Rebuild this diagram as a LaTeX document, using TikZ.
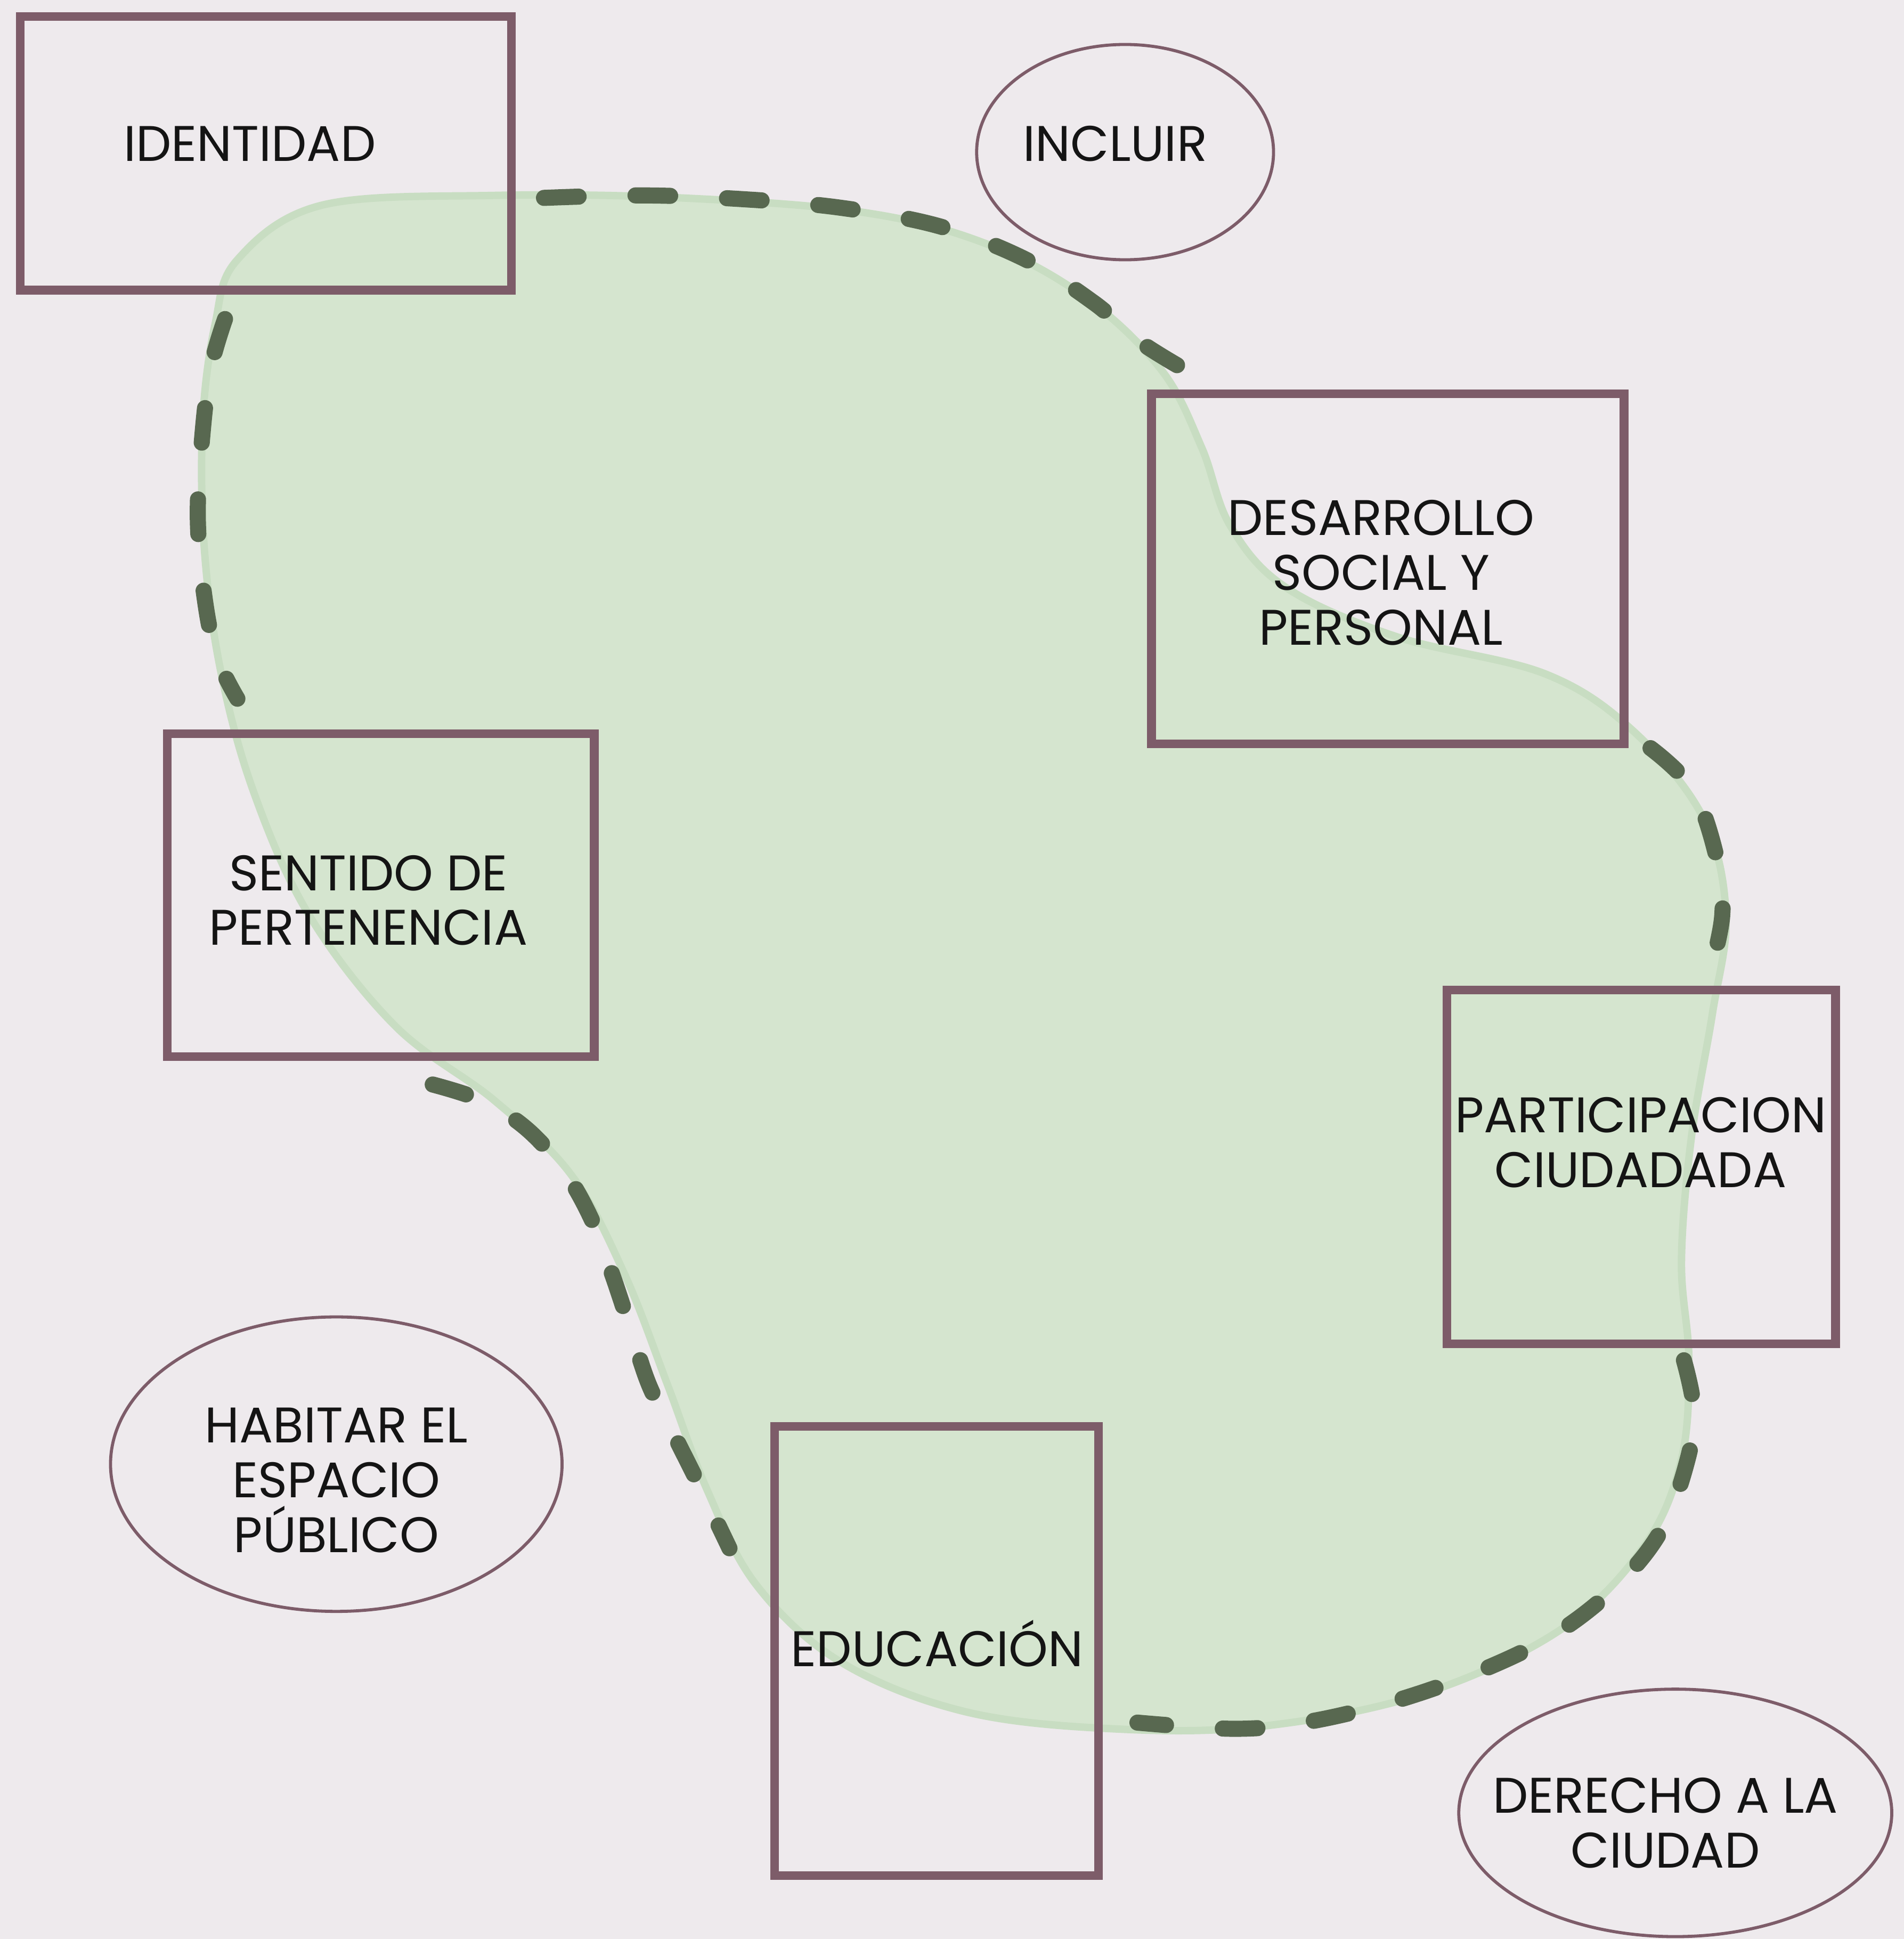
\documentclass[tikz,border=0pt]{standalone}
\usepackage{fontspec}
\setmainfont{Poppins}
\usetikzlibrary{shapes.geometric}
\definecolor{bgc}{RGB}{238,234,237}
\definecolor{blobc}{RGB}{213,229,207}
\definecolor{blobedge}{RGB}{200,221,194}
\definecolor{boxc}{RGB}{125,92,105}
\definecolor{dashc}{RGB}{88,104,80}
\definecolor{txtc}{RGB}{20,20,20}
\tikzset{
  cbox/.style={draw=boxc, line width=0.07cm, inner sep=0pt, rectangle},
  cell/.style={draw=boxc, line width=0.025cm, inner sep=0pt, ellipse},
  lbl/.style={text=txtc, font=\fontsize{11.5}{12.6}\selectfont, align=center, inner sep=0pt},
  dline/.style={draw=dashc, line width=0.13cm, line cap=round, dash pattern=on 0.28cm off 0.46cm},
}
\begin{document}
\begin{tikzpicture}[x=0.01cm,y=-0.01cm]
\useasboundingbox (0,0) rectangle (1540,1568);
\fill[bgc] (0,0) rectangle (1540,1568);
% green blob
\fill[blobc, draw=blobedge, line width=0.06cm] plot[smooth cycle, tension=0.6] coordinates {
 (192,210) (260,166) (400,158) (550,160) (700,172) (800,198) (880,242) (940,300)
 (972,362) (995,425) (1040,475) (1130,515) (1250,545) (1322,592) (1378,662) (1396,740)
 (1385,820) (1368,920) (1360,1020) (1366,1100) (1360,1180) (1330,1250) (1262,1318)
 (1150,1370) (1020,1396) (900,1398) (780,1384) (680,1344) (612,1282) (572,1205)
 (540,1120) (505,1030) (462,950) (400,890) (320,830) (250,740) (205,640) (178,540)
 (165,440) (164,340) (174,262)};
% dashed contour segments
\draw[dline] plot[smooth, tension=0.6] coordinates {(440,160) (520,158) (600,161) (680,168) (760,183) (830,210) (885,245) (920,275) (955,297)};
\draw[dline] plot[smooth, tension=0.6] coordinates {(1335,605) (1370,640) (1390,700) (1393,740) (1385,780)};
\draw[dline] plot[smooth, tension=0.6] coordinates {(1362,1100) (1370,1140) (1365,1180) (1345,1235) (1310,1280) (1260,1320) (1200,1350) (1130,1375) (1060,1392) (1000,1398) (920,1393)};
\draw[dline] plot[smooth, tension=0.6] coordinates {(182,258) (170,300) (163,360) (160,420) (165,480) (175,530) (192,565)};
\draw[dline] plot[smooth, tension=0.6] coordinates {(350,877) (390,890) (425,912) (455,945) (478,985) (495,1030) (510,1075) (525,1120) (545,1160) (565,1200) (590,1252)};
% boxes
\node[cbox, minimum width=3.97cm, minimum height=2.21cm] (bident) at (215,124) {};
\node[cbox, minimum width=3.82cm, minimum height=2.83cm] (bdes) at (1122.5,460) {};
\node[cbox, minimum width=3.45cm, minimum height=2.61cm] (bsent) at (308,724) {};
\node[cbox, minimum width=3.14cm, minimum height=2.86cm] (bpart) at (1327.5,943.5) {};
\node[cbox, minimum width=2.62cm, minimum height=3.63cm] (bedu) at (757.5,1335) {};
% ellipses
\node[cell, minimum width=2.40cm, minimum height=1.74cm] (eincl) at (910,123) {};
\node[cell, minimum width=3.65cm, minimum height=2.38cm] (ehab) at (272,1184) {};
\node[cell, minimum width=3.50cm, minimum height=2.00cm] (eder) at (1355,1466) {};
% labels
\node[lbl] (tident) at (202,116) {IDENTIDAD};
\node[lbl] (tincl) at (902,116) {INCLUIR};
\node[lbl] (tdes) at (1117,463) {DESARROLLO\\SOCIAL Y\\PERSONAL};
\node[lbl] (tsent) at (298,728) {SENTIDO DE\\PERTENENCIA};
\node[lbl] (tpart) at (1327,924) {PARTICIPACION\\CIUDADADA};
\node[lbl] (thab) at (272,1197) {HABITAR EL\\ESPACIO\\PÚBLICO};
\node[lbl] (tedu) at (758,1329) {EDUCACIÓN};
\node[lbl] (tder) at (1347,1474) {DERECHO A LA\\CIUDAD};
\end{tikzpicture}
\end{document}
